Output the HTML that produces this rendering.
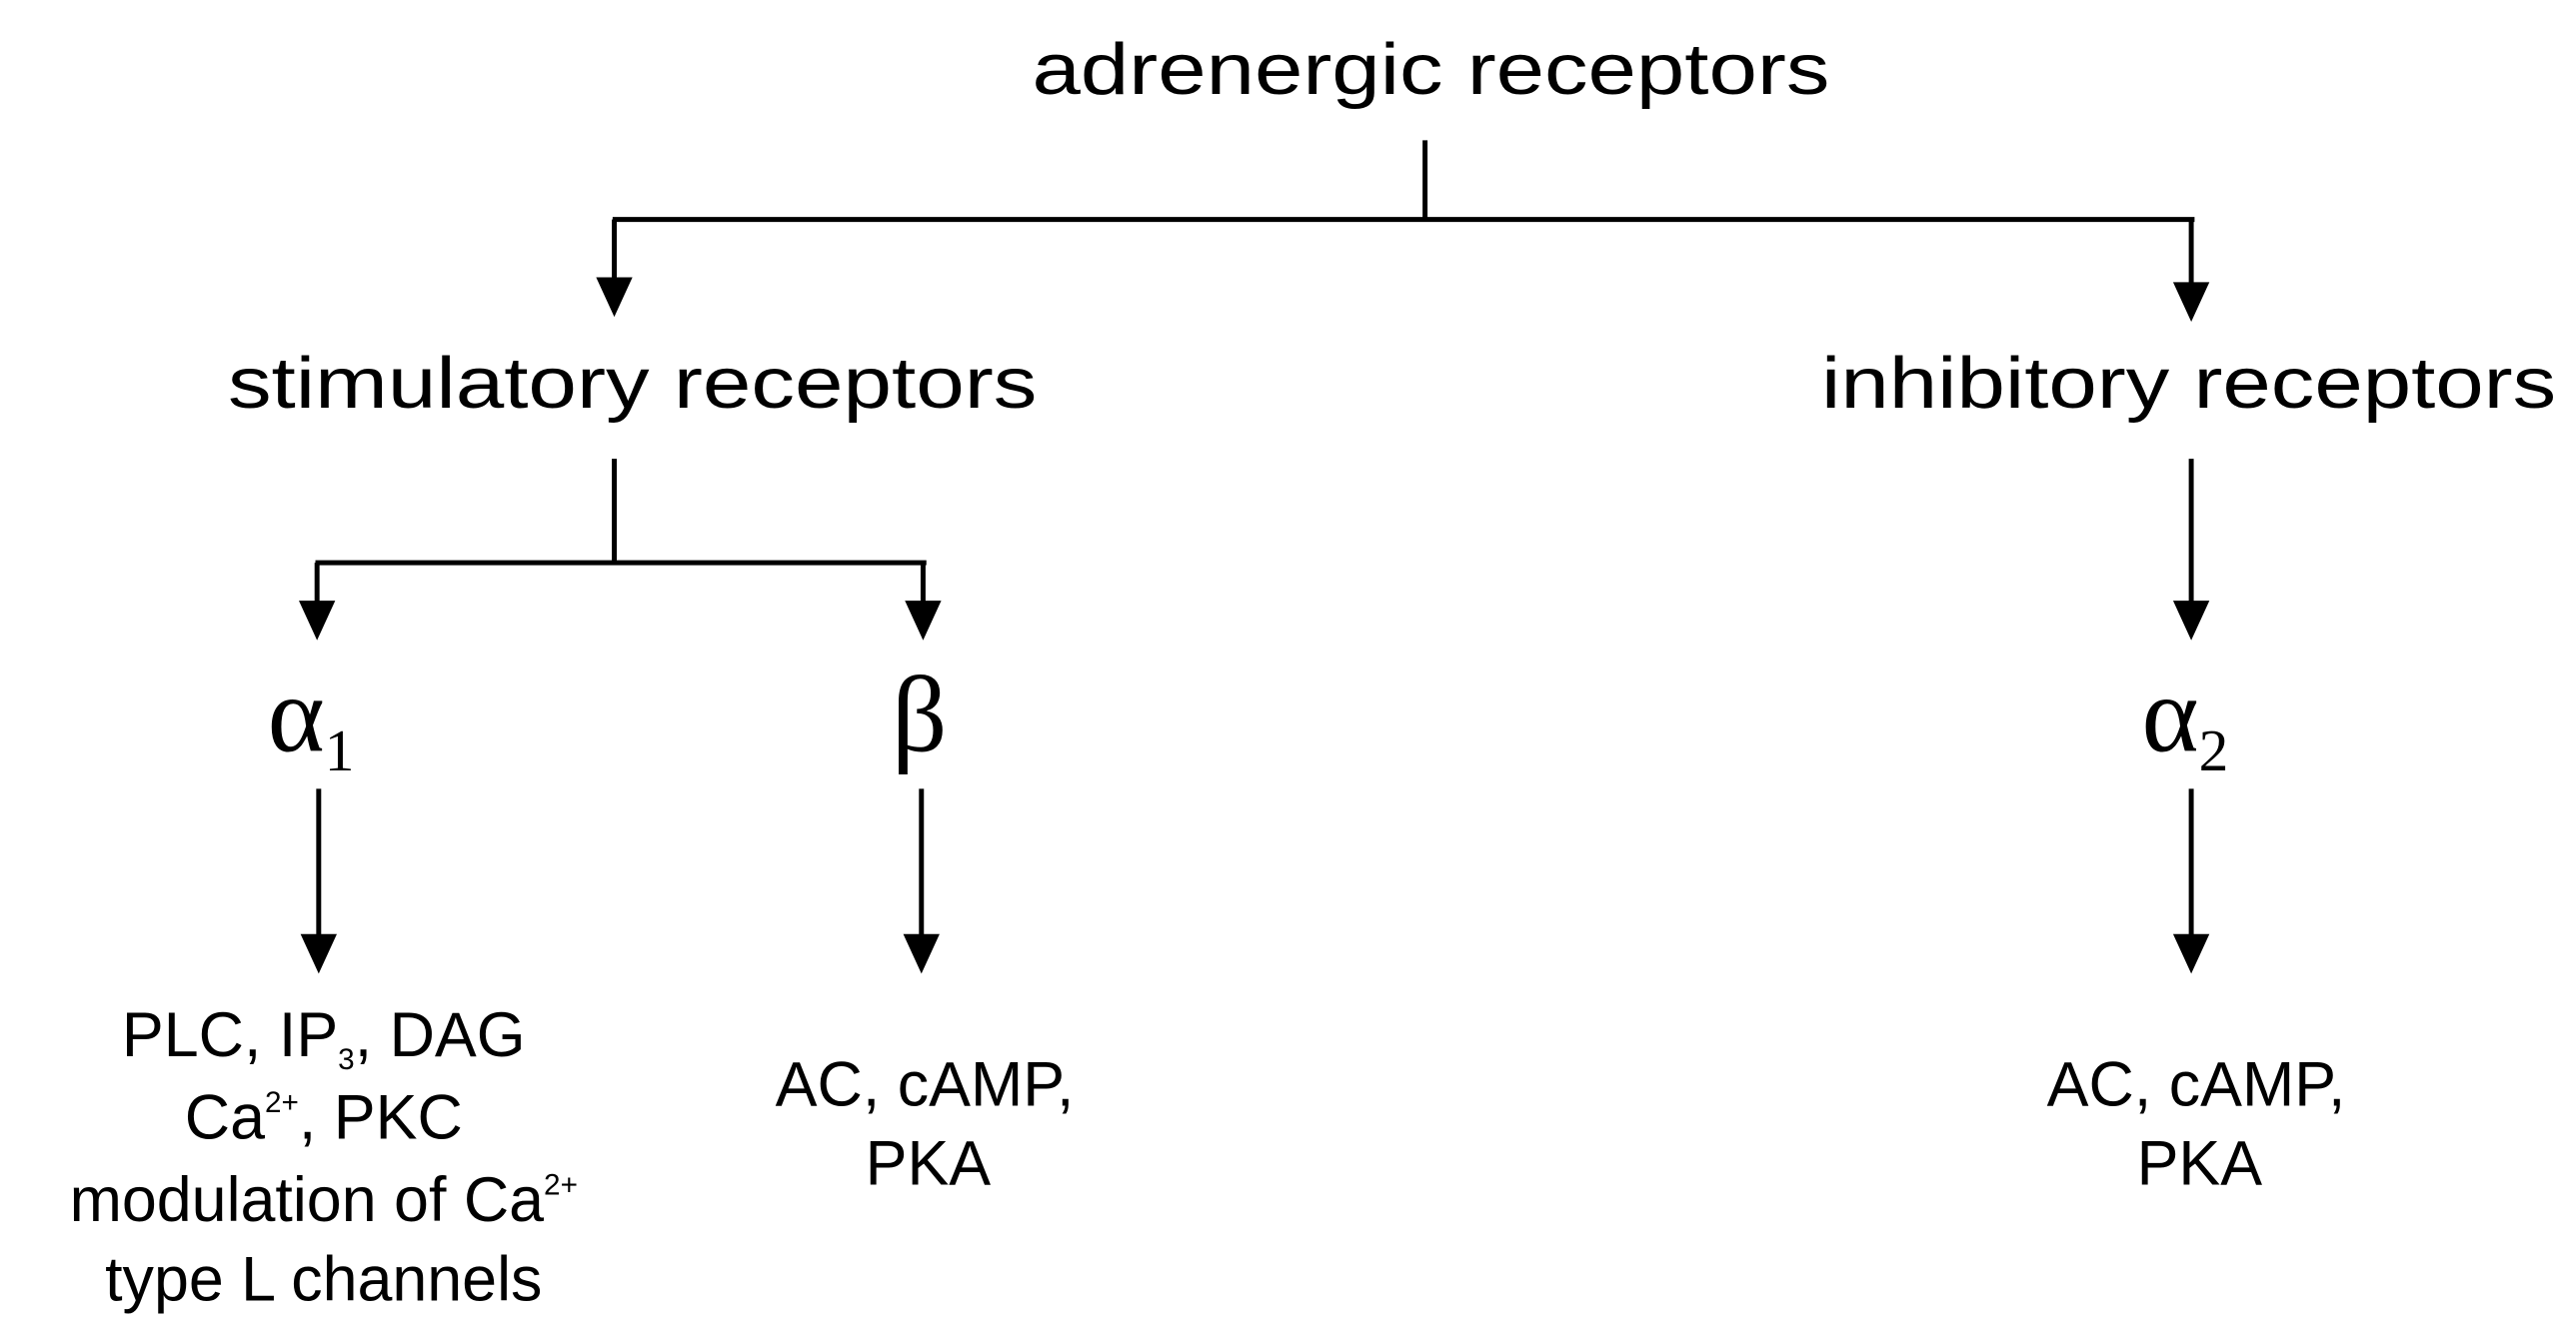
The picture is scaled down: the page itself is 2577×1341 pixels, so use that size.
<!DOCTYPE html>
<html><head><meta charset="utf-8"><style>
html,body{margin:0;padding:0;background:#fff;}
svg{display:block;}
text{font-family:"Liberation Sans",sans-serif;fill:#000;}
.g{font-family:"Liberation Serif",serif;}
</style></head><body>
<svg width="2577" height="1341" viewBox="0 0 1560 812" preserveAspectRatio="none" xmlns="http://www.w3.org/2000/svg">
<defs><marker id="a" markerWidth="8" markerHeight="9" refX="4" refY="9" orient="auto" markerUnits="userSpaceOnUse" viewBox="0 0 8 9"></marker></defs>
<g stroke="#000" stroke-width="3" fill="none">
<line x1="863" y1="85" x2="863" y2="133"/>
<line x1="371" y1="133" x2="1329" y2="133"/>
<line x1="372" y1="133" x2="372" y2="172"/>
<line x1="1327" y1="133" x2="1327" y2="175"/>
<line x1="372" y1="278" x2="372" y2="341"/>
<line x1="191" y1="341" x2="561" y2="341"/>
<line x1="192" y1="341" x2="192" y2="368"/>
<line x1="559" y1="341" x2="559" y2="368"/>
<line x1="1327" y1="278" x2="1327" y2="368"/>
<line x1="193" y1="478" x2="193" y2="570"/>
<line x1="558" y1="478" x2="558" y2="570"/>
<line x1="1327" y1="478" x2="1327" y2="570"/>
</g>
<g fill="#000">
<polygon points="361,168 383,168 372,192"/>
<polygon points="1316,171 1338,171 1327,195"/>
<polygon points="181,364 203,364 192,388"/>
<polygon points="548,364 570,364 559,388"/>
<polygon points="1316,364 1338,364 1327,388"/>
<polygon points="182,566 204,566 193,590"/>
<polygon points="547,566 569,566 558,590"/>
<polygon points="1316,566 1338,566 1327,590"/>
</g>
<text x="625" y="57" font-size="44" textLength="483" lengthAdjust="spacingAndGlyphs">adrenergic receptors</text>
<text x="138" y="247" font-size="44" textLength="490" lengthAdjust="spacingAndGlyphs">stimulatory receptors</text>
<text x="1103" y="247" font-size="44" textLength="445" lengthAdjust="spacingAndGlyphs">inhibitory receptors</text>
<text class="g" x="162" y="455" font-size="66">α<tspan font-size="36" dy="12">1</tspan></text>
<text class="g" x="540" y="455" font-size="66">β</text>
<text class="g" x="1297" y="455" font-size="66">α<tspan font-size="36" dy="12">2</tspan></text>
<g font-size="38" text-anchor="middle">
<text x="196" y="640">PLC, IP<tspan font-size="18" dy="8">3</tspan><tspan dy="-8">, DAG</tspan></text>
<text x="196" y="690">Ca<tspan font-size="18" dy="-16">2+</tspan><tspan dy="16">, PKC</tspan></text>
<text x="196" y="740">modulation of Ca<tspan font-size="18" dy="-16">2+</tspan></text>
<text x="196" y="788">type L channels</text>
<text x="560" y="670">AC, cAMP,</text>
<text x="562" y="718">PKA</text>
<text x="1330" y="670">AC, cAMP,</text>
<text x="1332" y="718">PKA</text>
</g>
</svg>
</body></html>
